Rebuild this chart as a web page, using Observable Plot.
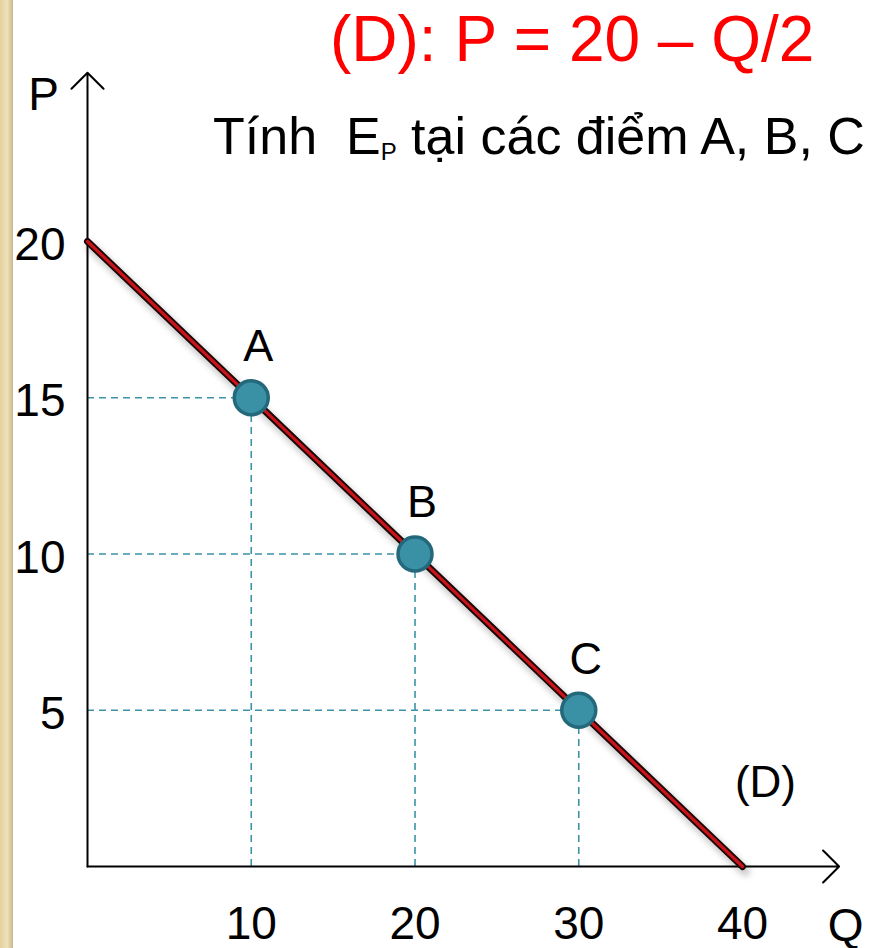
<!DOCTYPE html>
<html>
<head>
<meta charset="utf-8">
<script src="https://cdn.jsdelivr.net/npm/d3@7"></script>
<script src="https://cdn.jsdelivr.net/npm/@observablehq/plot@0.6"></script>
<style>
  html, body { margin: 0; padding: 0; background: #fff; }
  #wrap { position: relative; width: 891px; height: 948px; overflow: hidden; font-family: "Liberation Sans", Arial, sans-serif; }
  #edge { position: absolute; left: 0; top: 0; width: 13px; height: 948px;
          background: linear-gradient(to right, #e4d09c 0, #efe1b8 55%, #d9c69b 85%, #c9b78e 100%); }
  #title { position: absolute; left: 330px; top: 7px; font-size: 64px; line-height: 1; color: #ff0000; white-space: nowrap; }
  #subtitle { position: absolute; left: 213px; top: 110px; font-size: 52px; line-height: 1; color: #000; white-space: nowrap; }
  #subtitle .sub { font-size: 24px; position: relative; top: 6px; }
  #chart { position: absolute; left: 0; top: 0; }
</style>
</head>
<body>
<div id="wrap">
  <div id="edge"></div>
  <div id="chart"></div>
  <div id="title">(D): P = 20 – Q/2</div>
  <div id="subtitle">Tính&nbsp; E<span class="sub">P</span> tại các điểm A, B, C</div>
</div>
<script>
// Demand curve (D): P = 20 - Q/2, drawn between its two intercepts
const demandQ = [0, 40];
const demandP = [20, 0];

// Points on the curve where elasticity is evaluated
const pointNames = ["A", "B", "C"];
const pointQ = [10, 20, 30];
const pointP = [15, 10, 5];

// Axis tick labels
const xTicks = [10, 20, 30, 40];
const yTicks = [5, 10, 15, 20];

// Extent of the arrowed axes (in data units)
const axisQmax = 45.9;
const axisPmax = 25.4;

const demand = demandQ.map((q, i) => ({Q: q, P: demandP[i]}));
const points = pointNames.map((name, i) => ({name, Q: pointQ[i], P: pointP[i]}));

const font = "Liberation Sans, Arial, sans-serif";
const teal = "#3c93a8";

const chart = Plot.plot({
  width: 891,
  height: 948,
  marginLeft: 87,
  marginRight: 149,
  marginTop: 241,
  marginBottom: 82,
  x: {domain: [0, 40], axis: null},
  y: {domain: [0, 20], axis: null},
  style: {fontFamily: font, background: "transparent", overflow: "visible", color: "#000"},
  marks: [
    // dashed guides from each point to the axes
    Plot.ruleY(points, {y: "P", x1: 0, x2: "Q", stroke: teal, strokeWidth: 1.6, strokeDasharray: "7,5"}),
    Plot.ruleX(points, {x: "Q", y1: 0, y2: "P", insetBottom: 11, stroke: teal, strokeWidth: 1.6, strokeDasharray: "7,5"}),

    // axes with open arrowheads
    Plot.arrow([0], {x1: 0, y1: 0, x2: 0, y2: axisPmax, stroke: "#000", strokeWidth: 2, headLength: 17, headAngle: 90}),
    Plot.arrow([0], {x1: 0, y1: 0, x2: axisQmax, y2: 0, stroke: "#000", strokeWidth: 2, headLength: 17, headAngle: 90}),

    // demand line: soft shadow, dark outline, red core
    Plot.line(demand, {x: "Q", y: "P", stroke: "#000", strokeOpacity: 0.22, strokeWidth: 9, dx: 3, dy: 5, imageFilter: "blur(3px)"}),
    Plot.line(demand, {x: "Q", y: "P", stroke: "#1c0505", strokeWidth: 7, strokeLinecap: "round"}),
    Plot.line(demand, {x: "Q", y: "P", stroke: "#c8141a", strokeWidth: 3.2, strokeLinecap: "round"}),

    // evaluated points
    Plot.dot(points, {x: "Q", y: "P", r: 17, fill: "#3a91a6", stroke: "#24697b", strokeWidth: 3.5}),
    Plot.text(points, {x: "Q", y: "P", text: "name", dx: 7, dy: -51, fontSize: 45, fill: "#000"}),

    // tick labels
    Plot.text(xTicks, {x: d => d, frameAnchor: "bottom", lineAnchor: "middle", dy: 58, text: d => String(d), fontSize: 46, fill: "#000"}),
    Plot.text(yTicks, {y: d => d, frameAnchor: "left", textAnchor: "end", lineAnchor: "middle", dx: -22, dy: 4, text: d => String(d), fontSize: 46, fill: "#000"}),

    // axis names and curve name
    Plot.text(["Q"], {x: 46.3, frameAnchor: "bottom", lineAnchor: "middle", dy: 60, text: d => d, fontSize: 46, fill: "#000"}),
    Plot.text(["P"], {y: 24.67, frameAnchor: "left", textAnchor: "middle", lineAnchor: "middle", dx: -44, text: d => d, fontSize: 46, fill: "#000"}),
    Plot.text(["(D)"], {x: 41.4, y: 2.69, text: d => d, fontSize: 44, fill: "#000"})
  ]
});

document.getElementById("chart").appendChild(chart);
</script>
</body>
</html>
